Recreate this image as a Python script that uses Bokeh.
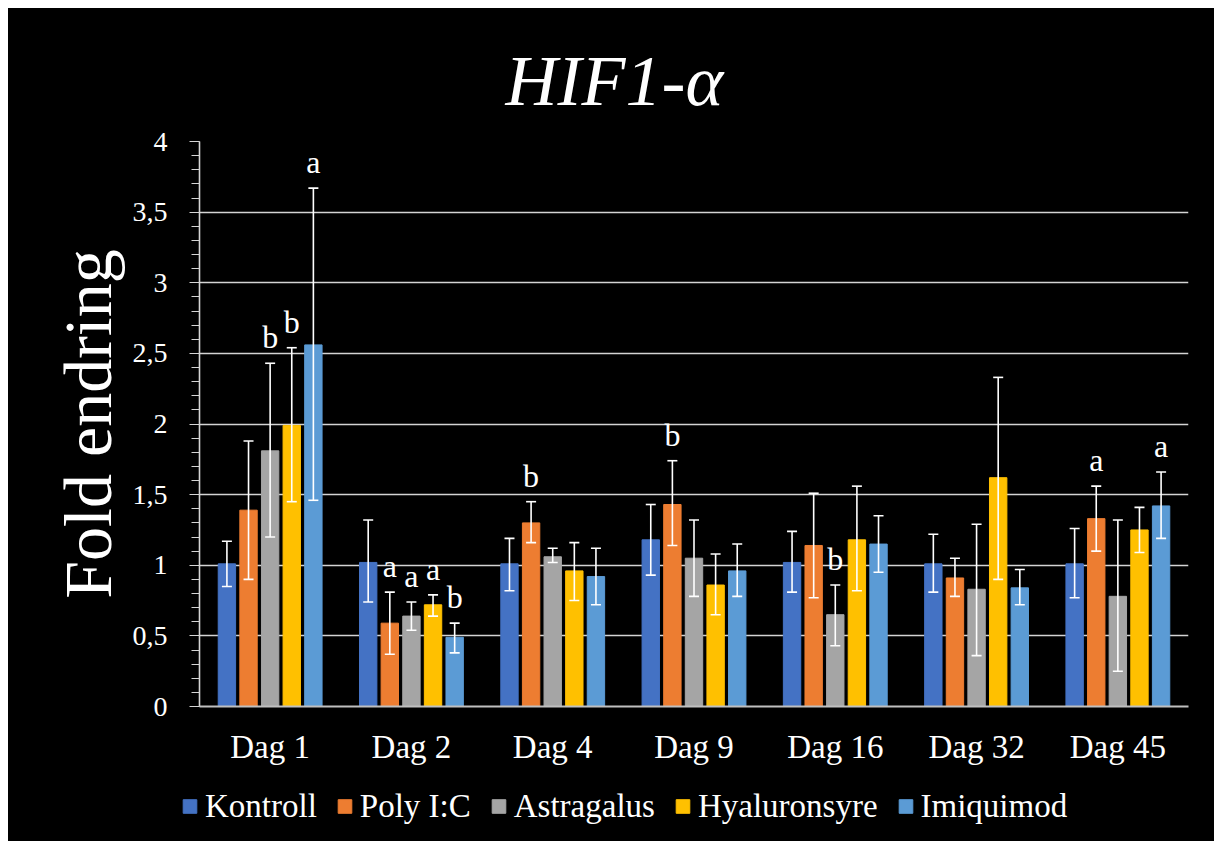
from bokeh.core.properties import value
from bokeh.embed import file_html
from bokeh.layouts import column, row
from bokeh.models import (ColumnDataSource, CustomJSTickFormatter, FixedTicker,
                          Legend, LegendItem, Range1d, Spacer, TeeHead, Whisker)
from bokeh.plotting import figure
from bokeh.resources import INLINE
from bokeh.transform import dodge

# ---- data -------------------------------------------------------------
days = ["Dag 1", "Dag 2", "Dag 4", "Dag 9", "Dag 16", "Dag 32", "Dag 45"]
groups = ["Kontroll", "Poly I:C", "Astragalus", "Hyaluronsyre", "Imiquimod"]

kontroll = [1.01, 1.02, 1.01, 1.18, 1.02, 1.01, 1.01]
kontroll_hi = [1.17, 1.32, 1.19, 1.43, 1.24, 1.22, 1.26]
kontroll_lo = [0.85, 0.74, 0.82, 0.93, 0.81, 0.81, 0.77]
kontroll_sig = ["", "", "", "", "", "", ""]

poly_ic = [1.39, 0.59, 1.30, 1.43, 1.14, 0.91, 1.33]
poly_ic_hi = [1.88, 0.81, 1.45, 1.74, 1.51, 1.05, 1.56]
poly_ic_lo = [0.90, 0.37, 1.16, 1.14, 0.77, 0.78, 1.10]
poly_ic_sig = ["", "a", "b", "b", "", "", "a"]

astragalus = [1.81, 0.64, 1.06, 1.05, 0.65, 0.83, 0.78]
astragalus_hi = [2.43, 0.74, 1.12, 1.32, 0.86, 1.29, 1.32]
astragalus_lo = [1.20, 0.54, 1.02, 0.78, 0.43, 0.36, 0.25]
astragalus_sig = ["b", "a", "", "", "b", "", ""]

hyaluronsyre = [1.99, 0.72, 0.96, 0.86, 1.18, 1.62, 1.25]
hyaluronsyre_hi = [2.54, 0.79, 1.16, 1.08, 1.56, 2.33, 1.41]
hyaluronsyre_lo = [1.45, 0.64, 0.75, 0.65, 0.82, 0.90, 1.09]
hyaluronsyre_sig = ["b", "a", "", "", "", "", ""]

imiquimod = [2.56, 0.49, 0.92, 0.96, 1.15, 0.84, 1.42]
imiquimod_hi = [3.67, 0.59, 1.12, 1.15, 1.35, 0.97, 1.66]
imiquimod_lo = [1.46, 0.38, 0.72, 0.78, 0.95, 0.72, 1.19]
imiquimod_sig = ["a", "b", "", "", "", "", "a"]

y_ticks = [0, 0.5, 1, 1.5, 2, 2.5, 3, 3.5, 4]
y_minor_ticks = [i / 10 for i in range(41)]

# ---- styling ----------------------------------------------------------
colors = ["#4472C4", "#ED7D31", "#A5A5A5", "#FFC000", "#5B9BD5"]
offsets = [-0.306, -0.153, 0.0, 0.153, 0.306]
bar_width = 0.123
FONT = "Liberation Serif"
GRID = "#d4d4d4"

series = [
    (kontroll, kontroll_hi, kontroll_lo, kontroll_sig),
    (poly_ic, poly_ic_hi, poly_ic_lo, poly_ic_sig),
    (astragalus, astragalus_hi, astragalus_lo, astragalus_sig),
    (hyaluronsyre, hyaluronsyre_hi, hyaluronsyre_lo, hyaluronsyre_sig),
    (imiquimod, imiquimod_hi, imiquimod_lo, imiquimod_sig),
]

p = figure(
    x_range=days, y_range=Range1d(0, 4),
    frame_width=989, frame_height=565,
    min_border_left=191, min_border_right=26,
    min_border_top=133, min_border_bottom=64,
    output_backend="svg", toolbar_location=None,
    background_fill_color="black", border_fill_color="black",
    outline_line_color=None,
    title="HIF1-\u03b1",
)

# legend strip under the chart (its own small canvas)
leg = figure(
    x_range=days, y_range=Range1d(0, 4),
    frame_width=1206, frame_height=71,
    min_border=0, min_border_left=0, min_border_right=0,
    min_border_top=0, min_border_bottom=0,
    x_axis_type=None, y_axis_type=None,
    output_backend="svg", toolbar_location=None,
    background_fill_color="black", border_fill_color="black",
    outline_line_color=None,
)

legend_items = []
for name, color, off, (vals, hi, lo, sig) in zip(groups, colors, offsets, series):
    src = ColumnDataSource(dict(day=days, val=vals, hi=hi, lo=lo, sig=sig))
    p.vbar(x=dodge("day", off, range=p.x_range), top="val", width=bar_width,
           source=src, fill_color=color, line_color=color, line_width=1)
    w = Whisker(base=dodge("day", off, range=p.x_range), upper="hi", lower="lo",
                source=src, level="overlay", line_color="white", line_width=1.6,
                upper_head=TeeHead(size=10, line_color="white", line_width=1.6),
                lower_head=TeeHead(size=10, line_color="white", line_width=1.6))
    p.add_layout(w)
    p.text(x=dodge("day", off, range=p.x_range), y="hi", text="sig", source=src,
           text_align="center", text_baseline="alphabetic", y_offset=-26,
           text_font=value(FONT), text_font_size="32px", text_color="white")
    # hidden twin of the series, only used as the legend swatch
    key = leg.vbar(x=dodge("day", off, range=leg.x_range), top="val",
                   width=bar_width, source=src, fill_color=color,
                   line_color=color, line_width=1, visible=False)
    legend_items.append(LegendItem(label=name, renderers=[key]))

# ---- title ------------------------------------------------------------
p.title.align = "left"
p.title.offset = 306
p.title.standoff = 41
p.title.text_font = FONT
p.title.text_font_style = "italic"
p.title.text_font_size = "72px"
p.title.text_color = "white"

# ---- axes & grid ------------------------------------------------------
p.xgrid.grid_line_color = None
p.ygrid.grid_line_color = GRID
p.ygrid.grid_line_width = 1.6

yax = p.yaxis[0]
yax.ticker = FixedTicker(ticks=y_ticks, minor_ticks=y_minor_ticks)
yax.formatter = CustomJSTickFormatter(code="return String(tick).replace('.', ',')")
yax.axis_line_color = GRID
yax.axis_line_width = 1.6
yax.major_tick_line_color = GRID
yax.minor_tick_line_color = GRID
yax.major_tick_in = 0
yax.major_tick_out = 10
yax.minor_tick_in = 0
yax.minor_tick_out = 8
yax.major_label_standoff = 22
yax.major_label_text_font = FONT
yax.major_label_text_font_size = "28px"
yax.major_label_text_color = "white"
yax.axis_label = "Fold endring"
yax.axis_label_standoff = 4
yax.axis_label_text_font = FONT
yax.axis_label_text_font_style = "normal"
yax.axis_label_text_font_size = "68px"
yax.axis_label_text_color = "white"

xax = p.xaxis[0]
xax.axis_line_color = "#bfbfbf"
xax.axis_line_width = 2
xax.major_tick_line_color = None
xax.minor_tick_line_color = None
xax.major_tick_out = 0
xax.major_label_standoff = 22
xax.major_label_text_font = FONT
xax.major_label_text_font_size = "33px"
xax.major_label_text_color = "white"

# ---- legend -----------------------------------------------------------
legend = Legend(items=legend_items, orientation="horizontal",
                location="center_left", padding=0, margin=173, spacing=19,
                glyph_width=17, glyph_height=17, label_standoff=7,
                label_text_font=FONT, label_text_font_size="33px",
                label_text_color="white", background_fill_alpha=0,
                border_line_color=None, inactive_fill_alpha=0)
leg.add_layout(legend, "center")

chart = column(p, leg, styles={"background-color": "black"})
layout = column(Spacer(height=8), row(Spacer(width=8), chart))

with open("out.html", "w") as f:
    f.write(file_html(layout, INLINE))
